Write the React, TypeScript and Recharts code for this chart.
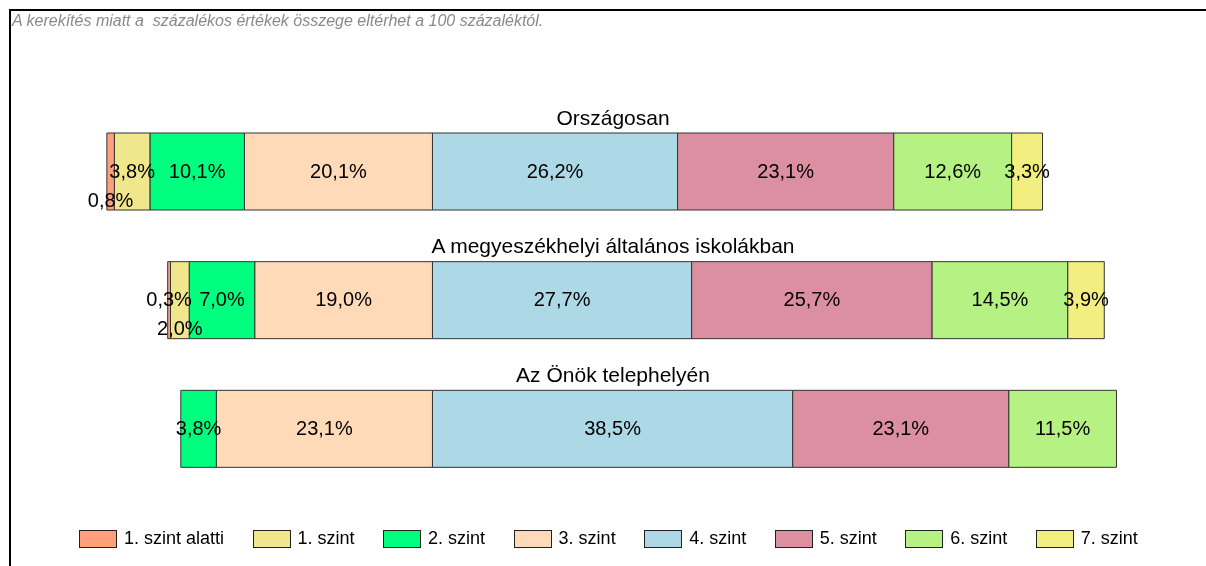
import { BarChart, Bar, XAxis, YAxis, LabelList } from 'recharts';

// categories (one bar each)
const categories = ['Országosan', 'A megyeszékhelyi általános iskolákban', 'Az Önök telephelyén'];

// share of students per level, in %
const belowLevel1 = [0.8, 0.3, 0];
const level1 = [3.8, 2.0, 0];
const level2 = [10.1, 7.0, 3.8];
const level3 = [20.1, 19.0, 23.1];
const level4 = [26.2, 27.7, 38.5];
const level5 = [23.1, 25.7, 23.1];
const level6 = [12.6, 14.5, 11.5];
const level7 = [3.3, 3.9, 0];

const levelNames = ['1. szint alatti', '1. szint', '2. szint', '3. szint', '4. szint', '5. szint', '6. szint', '7. szint'];

const FONT = '"Liberation Sans", Arial, sans-serif';

// levels 1 alatti..3 go to the left of the 3/4 boundary, 4..7 to the right
const levels = [
  { key: 'l0', name: levelNames[0], values: belowLevel1, color: '#FFA07A', left: true },
  { key: 'l1', name: levelNames[1], values: level1, color: '#F0E68C', left: true },
  { key: 'l2', name: levelNames[2], values: level2, color: '#00FF7F', left: true },
  { key: 'l3', name: levelNames[3], values: level3, color: '#FFDAB9', left: true },
  { key: 'l4', name: levelNames[4], values: level4, color: '#ADD8E6', left: false },
  { key: 'l5', name: levelNames[5], values: level5, color: '#DC8FA0', left: false },
  { key: 'l6', name: levelNames[6], values: level6, color: '#B5F283', left: false },
  { key: 'l7', name: levelNames[7], values: level7, color: '#F2EE80', left: false },
];

// stacking order: nearest to the center first
const stackOrder = ['l3', 'l2', 'l1', 'l0', 'l4', 'l5', 'l6', 'l7'];

// small labels that overlap get pushed down (px)
const labelDrop: Record<string, number[]> = {
  l0: [29, 0, 0],
  l1: [0, 29, 0],
};

const data = categories.map((name, i) => {
  const row: Record<string, string | number> = { name };
  levels.forEach((l) => {
    row[l.key] = l.left ? -l.values[i] : l.values[i];
  });
  return row;
});

const fmt = (v: number) => v.toFixed(1).replace('.', ',') + '%';

const makeLabel = (key: string) => (props: any) => {
  const { x, y, width, height, value, index } = props;
  const v = Math.abs(Number(value));
  if (!v) return null;
  const dy = labelDrop[key]?.[index] ?? 0;
  return (
    <text
      x={Number(x) + Number(width) / 2}
      y={Number(y) + Number(height) / 2 + dy - 1}
      textAnchor="middle"
      dominantBaseline="central"
      fontSize={20}
      fontFamily={FONT}
      fill="#000"
    >
      {fmt(v)}
    </text>
  );
};

// category title above each bar
const titleLabel = (props: any) => {
  const { y, value } = props;
  return (
    <text x={613} y={Number(y) - 16} textAnchor="middle" dominantBaseline="central" fontSize={21} fontFamily={FONT} fill="#000">
      {value}
    </text>
  );
};

export default function App() {
  return (
    <div style={{ fontFamily: FONT }}>
      <div
        style={{
          position: 'fixed',
          left: 9,
          top: 9,
          width: 1200,
          height: 570,
          borderTop: '2px solid #000',
          borderLeft: '2px solid #000',
        }}
      />
      <div
        style={{
          position: 'fixed',
          left: 12,
          top: 12,
          fontSize: 16,
          fontStyle: 'italic',
          color: '#8a8a8a',
          whiteSpace: 'pre',
        }}
      >
        A kerekítés miatt a  százalékos értékek összege eltérhet a 100 százaléktól.
      </div>
      <div style={{ position: 'fixed', left: 0, top: 0 }}>
        <BarChart
          width={1206}
          height={566}
          data={data}
          layout="vertical"
          stackOffset="sign"
          margin={{ top: 107, right: 25, bottom: 73, left: 105 }}
          barSize={77}
        >
          <XAxis type="number" domain={[-35, 80]} hide allowDataOverflow />
          <YAxis type="category" dataKey="name" hide />
          {stackOrder.map((k) => {
            const l = levels.find((x) => x.key === k)!;
            return (
              <Bar key={k} dataKey={k} name={l.name} stackId="a" fill={l.color} stroke="#333" strokeWidth={1} isAnimationActive={false}>
                <LabelList dataKey={k} content={makeLabel(k)} />
                {k === 'l4' && <LabelList dataKey="name" content={titleLabel} />}
              </Bar>
            );
          })}
        </BarChart>
      </div>
      <div
        style={{
          position: 'fixed',
          left: 79,
          top: 528,
          display: 'flex',
          alignItems: 'center',
          gap: 28.5,
          fontSize: 18,
          color: '#000',
        }}
      >
        {levels.map((l) => (
          <div key={l.key} style={{ display: 'flex', alignItems: 'center' }}>
            <div style={{ width: 36, height: 16, background: l.color, border: '1px solid #222', marginRight: 7 }} />
            <span>{l.name}</span>
          </div>
        ))}
      </div>
    </div>
  );
}
